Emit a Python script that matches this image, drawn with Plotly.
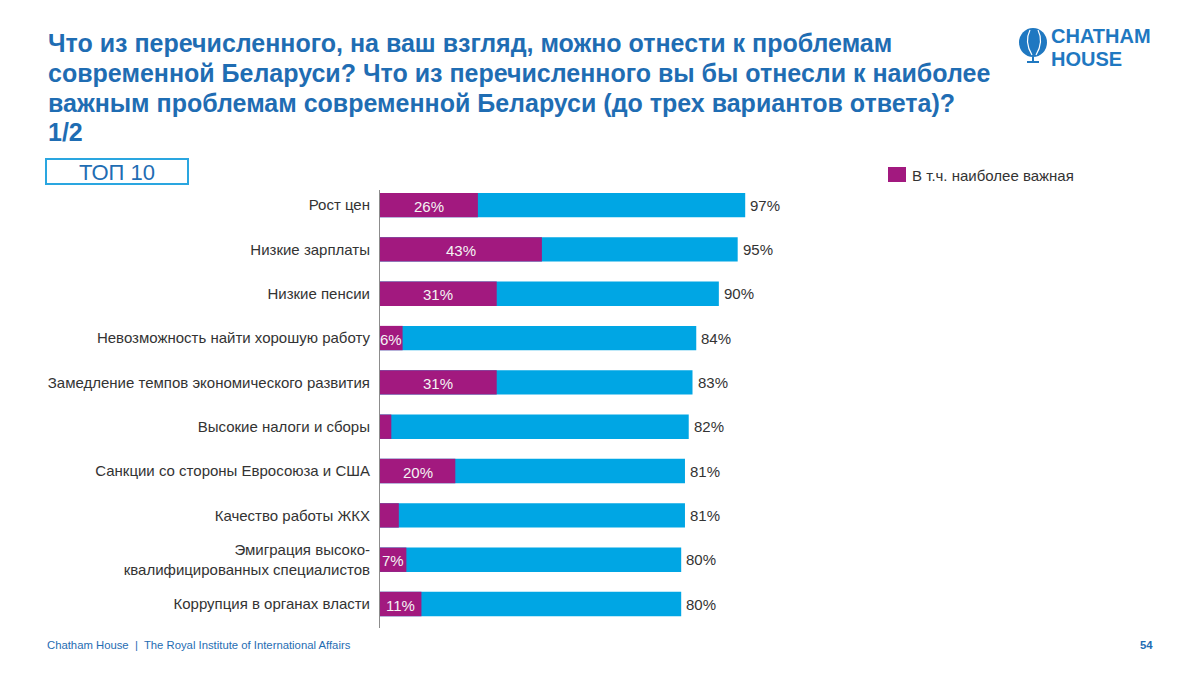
import plotly.graph_objects as go

categories = [
    "Рост цен",
    "Низкие зарплаты",
    "Низкие пенсии",
    "Невозможность найти хорошую работу",
    "Замедление темпов экономического развития",
    "Высокие налоги и сборы",
    "Санкции со стороны Евросоюза и США",
    "Качество работы ЖКХ",
    "Эмиграция высоко-<br>квалифицированных специалистов",
    "Коррупция в органах власти",
]
total_values = [97, 95, 90, 84, 83, 82, 81, 81, 80, 80]
important_values = [26, 43, 31, 6, 31, 3, 20, 5, 7, 11]
important_labels = ["26%", "43%", "31%", "6%", "31%", "", "20%", "", "7%", "11%"]
title_lines = [
    "Что из перечисленного, на ваш взгляд, можно отнести к проблемам",
    "современной Беларуси? Что из перечисленного вы бы отнесли к наиболее",
    "важным проблемам современной Беларуси (до трех вариантов ответа)?",
    "1/2",
]

BLUE = "#00A6E4"
PURPLE = "#A2197F"
TITLE_BLUE = "#1F6DB3"
LOGO_BLUE = "#1F78C1"
FONT = "Liberation Sans, Arial, sans-serif"

# Page offset (browser body margin) and plot geometry, in screenshot pixels
OFF = 8
PL, PR, PT, PB = 380, 1133, 190, 628
W, H = 1200, 675

ypos = list(range(len(categories)))

fig = go.Figure()
fig.add_trace(go.Bar(
    y=ypos, x=total_values, orientation="h", marker=dict(color=BLUE, line=dict(width=0)),
    width=0.55, showlegend=False, hoverinfo="skip",
))
fig.add_trace(go.Bar(
    y=ypos, x=important_values, orientation="h", marker=dict(color=PURPLE, line=dict(width=0)),
    width=0.55, showlegend=False, hoverinfo="skip",
))

for yv, iv, lab in zip(ypos, important_values, important_labels):
    if lab:
        fig.add_annotation(x=iv / 2, y=yv, xref="x", yref="y", text=lab, showarrow=False,
                           xanchor="center", yanchor="middle", yshift=-1,
                           font=dict(color="#F4F4F4", size=15, family=FONT))

for yv, tv in zip(ypos, total_values):
    fig.add_annotation(x=tv, y=yv, xref="x", yref="y", text=f"{tv}%", showarrow=False,
                       xanchor="left", yanchor="middle", xshift=3,
                       font=dict(color="#333333", size=15, family=FONT))

fig.update_layout(
    width=W, height=H,
    margin=dict(l=PL - OFF, r=W - (PR - OFF), t=PT - OFF, b=H - (PB - OFF)),
    paper_bgcolor="white", plot_bgcolor="white",
    barmode="overlay",
    font=dict(family=FONT, color="#333333", size=15),
    xaxis=dict(range=[0, 200], visible=False, fixedrange=True),
    yaxis=dict(
        range=[9.54, -0.34], tickmode="array", tickvals=ypos, ticktext=categories,
        showline=True, linecolor="#8c8c8c", linewidth=1, showgrid=False, zeroline=False,
        ticks="outside", ticklen=6, tickcolor="rgba(0,0,0,0)",
        tickfont=dict(size=15, color="#333333", family=FONT),
    ),
)

PW = PR - PL
PH = PB - PT


def px_x(p):
    return (p - PL) / PW


def px_y(p):
    return 1 - (p - PT) / PH


# Title, one annotation per line to control line spacing
for line, yc in zip(title_lines, [43, 73, 103, 132]):
    fig.add_annotation(
        xref="paper", yref="paper", x=px_x(46), y=px_y(yc),
        xanchor="left", yanchor="middle", align="left", showarrow=False,
        text=f"<b>{line}</b>", font=dict(size=25, color=TITLE_BLUE, family=FONT),
    )

# TOP 10 box
fig.add_shape(type="rect", xref="paper", yref="paper",
              x0=px_x(46), x1=px_x(188), y0=px_y(184), y1=px_y(159),
              line=dict(color="#2AA6E0", width=2), fillcolor="white")
fig.add_annotation(xref="paper", yref="paper", x=px_x(117), y=px_y(172),
                   text="ТОП 10", showarrow=False, xanchor="center", yanchor="middle",
                   font=dict(size=22, color=TITLE_BLUE, family=FONT))

# Legend
fig.add_shape(type="rect", xref="paper", yref="paper",
              x0=px_x(888), x1=px_x(906), y0=px_y(182), y1=px_y(167),
              line=dict(width=0), fillcolor=PURPLE)
fig.add_annotation(xref="paper", yref="paper", x=px_x(910), y=px_y(175),
                   text="В т.ч. наиболее важная", showarrow=False, xanchor="left", yanchor="middle",
                   font=dict(size=15, color="#333333", family=FONT))

# Footer
fig.add_annotation(xref="paper", yref="paper", x=px_x(45), y=px_y(645),
                   text="Chatham House  |  The Royal Institute of International Affairs",
                   showarrow=False, xanchor="left", yanchor="middle",
                   font=dict(size=11.3, color=TITLE_BLUE, family=FONT))
fig.add_annotation(xref="paper", yref="paper", x=px_x(1155), y=px_y(645),
                   text="<b>54</b>", showarrow=False, xanchor="right", yanchor="middle",
                   font=dict(size=11.3, color=TITLE_BLUE, family=FONT))

# Logo: globe + wordmark
fig.add_shape(type="circle", xref="paper", yref="paper",
              x0=px_x(1019), x1=px_x(1047), y0=px_y(57), y1=px_y(28),
              line=dict(width=0), fillcolor=LOGO_BLUE)
fig.add_shape(type="path", xref="paper", yref="paper",
              path=(f"M {px_x(1030)},{px_y(30)} Q {px_x(1024)},{px_y(42)} {px_x(1032)},{px_y(55)}"),
              line=dict(color="white", width=1.2))
fig.add_shape(type="path", xref="paper", yref="paper",
              path=(f"M {px_x(1038)},{px_y(30)} Q {px_x(1044)},{px_y(42)} {px_x(1036)},{px_y(55)}"),
              line=dict(color="white", width=1.2))
fig.add_shape(type="line", xref="paper", yref="paper",
              x0=px_x(1033), x1=px_x(1033), y0=px_y(57), y1=px_y(62),
              line=dict(color=LOGO_BLUE, width=2))
fig.add_shape(type="line", xref="paper", yref="paper",
              x0=px_x(1027), x1=px_x(1039), y0=px_y(62), y1=px_y(62),
              line=dict(color=LOGO_BLUE, width=2))
fig.add_annotation(xref="paper", yref="paper", x=px_x(1050), y=px_y(35),
                   text="<b>CHATHAM</b>", showarrow=False, xanchor="left", yanchor="middle",
                   height=17, borderpad=0,
                   font=dict(size=20, color=LOGO_BLUE, family=FONT))
fig.add_annotation(xref="paper", yref="paper", x=px_x(1050), y=px_y(58),
                   text="<b>HOUSE</b>", showarrow=False, xanchor="left", yanchor="middle",
                   height=17, borderpad=0,
                   font=dict(size=20, color=LOGO_BLUE, family=FONT))

fig.write_html("out.html")
